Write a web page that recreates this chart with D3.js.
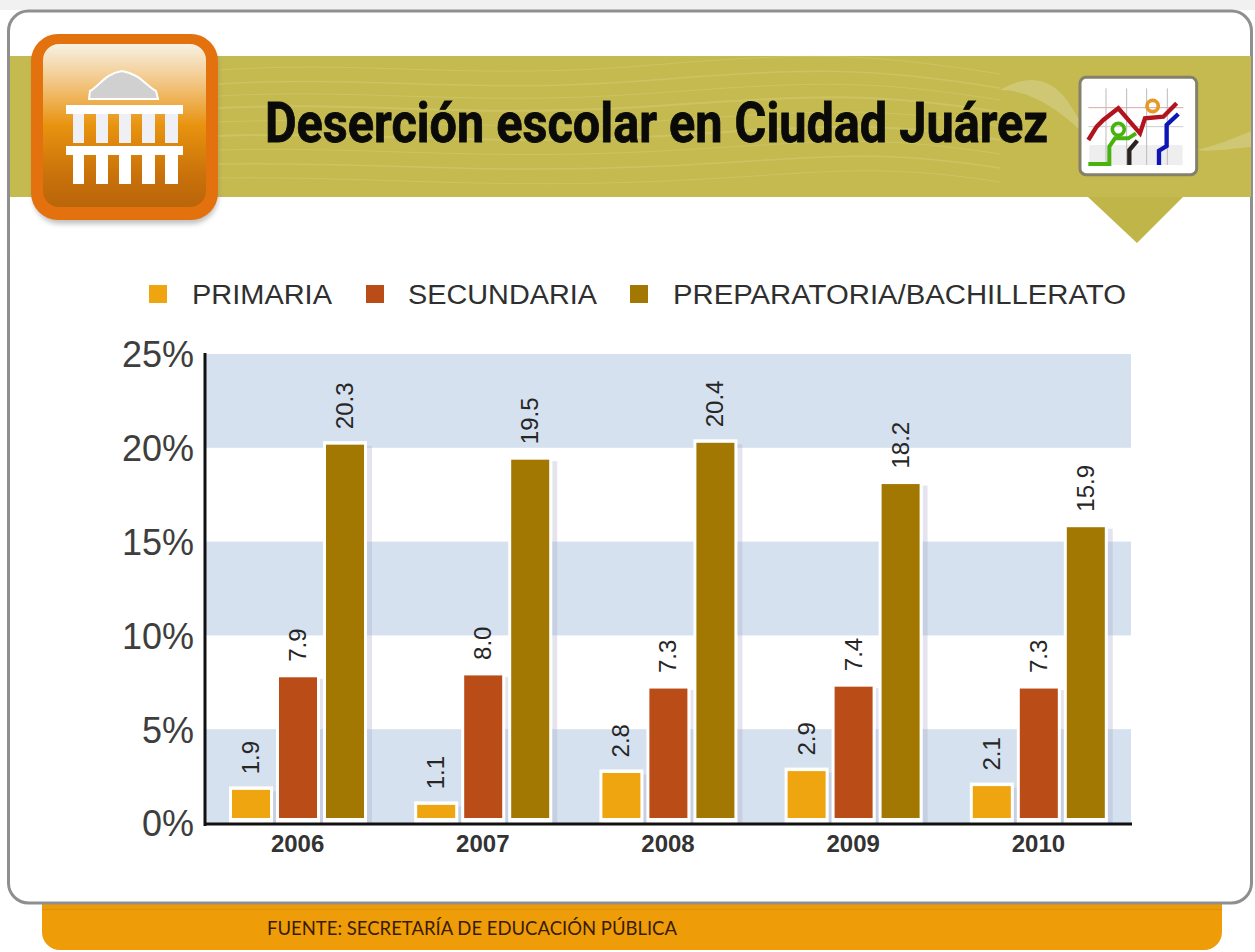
<!DOCTYPE html>
<html><head><meta charset="utf-8">
<script src="https://cdn.jsdelivr.net/npm/d3@7"></script>
<style>html,body{margin:0;padding:0;background:#fff}svg{display:block}text{font-family:"Liberation Sans",Arial,sans-serif}</style>
</head><body><div id="c"></div>
<script>
const years = ["2006","2007","2008","2009","2010"];
const seriesNames = ["PRIMARIA","SECUNDARIA","PREPARATORIA/BACHILLERATO"];
const primaria = [1.9,1.1,2.8,2.9,2.1];
const secundaria = [7.9,8.0,7.3,7.4,7.3];
const preparatoria = [20.3,19.5,20.4,18.2,15.9];
const seriesColors = ["#efa50f","#b94c17","#a27803"];
const yTicks = [0,5,10,15,20,25];
const titleText = "Deserción escolar en Ciudad Juárez";
const sourceText = "FUENTE: SECRETARÍA DE EDUCACIÓN PÚBLICA";

const W=1255,H=952;
const svg=d3.select("#c").append("svg").attr("width",W).attr("height",H);
const defs=svg.append("defs");
function grad(id,stops){const g=defs.append("linearGradient").attr("id",id).attr("x1",0).attr("y1",0).attr("x2",0).attr("y2",1);
 stops.forEach(s=>g.append("stop").attr("offset",s[0]).attr("stop-color",s[1]));}
grad("foot",[[0,"#8a8578"],[0.06,"#cf8a0c"],[0.2,"#ee9c08"],[0.88,"#ec9a08"],[1,"#c9870c"]]);
grad("ico",[[0,"#f7f1e3"],[0.22,"#f3c98a"],[0.5,"#e8930f"],[0.8,"#c9720b"],[1,"#b9650a"]]);
defs.append("filter").attr("id","soft").attr("x","-20%").attr("y","-20%").attr("width","140%").attr("height","140%")
 .append("feGaussianBlur").attr("stdDeviation",2.5);

// page frame
svg.append("rect").attr("width",W).attr("height",H).attr("fill","#fff");
svg.append("rect").attr("x",0).attr("y",0).attr("width",W).attr("height",10).attr("fill","#f1f1f1");
svg.append("rect").attr("x",42).attr("y",880).attr("width",1180).attr("height",70).attr("rx",18).attr("fill","#ee9c08");
svg.append("rect").attr("x",42).attr("y",902).attr("width",1180).attr("height",8).attr("fill","url(#foot)");
svg.append("rect").attr("x",8.5).attr("y",11).attr("width",1243).attr("height",892).attr("rx",20).attr("fill","#fff").attr("stroke","#8f8f8f").attr("stroke-width",3);

// header band
svg.append("rect").attr("x",10).attr("y",56).attr("width",1241).attr("height",141).attr("fill","#c4ba50");
svg.append("path").attr("d","M1088 197L1183 197L1137 243Z").attr("fill","#bfb548");
const waves=svg.append("g").attr("fill","none").attr("stroke","#d6ce7c").attr("opacity",0.45);
[[70,1],[84,1.5],[96,1],[108,2],[122,1],[136,2],[150,1],[164,1.5],[178,1]].forEach(([y,w],i)=>{
 waves.append("path").attr("stroke-width",w).attr("d",`M218 ${y} C 360 ${y-10+i} 470 ${y+10} 640 ${y-4+i} S 860 ${y-18} 1000 ${y+4}`);
});
svg.append("path").attr("d","M1000 90C1030 72 1055 78 1072 108C1082 124 1086 128 1085 135C1060 110 1030 90 1000 90Z").attr("fill","#d3cb80").attr("opacity",0.75);
svg.append("path").attr("d","M1197 150C1215 146 1235 138 1251 131L1251 147C1230 149 1210 152 1197 150Z").attr("fill","#d3cb80").attr("opacity",0.75);

// building icon
svg.append("rect").attr("x",33).attr("y",38).attr("width",185).attr("height",186).attr("rx",27).attr("fill","#777").attr("opacity",0.45).attr("filter","url(#soft)");
svg.append("rect").attr("x",31).attr("y",34).attr("width",187).attr("height",186).attr("rx",27).attr("fill","#e2710e");
svg.append("rect").attr("x",43).attr("y",44).attr("width",163).attr("height",163).attr("rx",16).attr("fill","url(#ico)");
const b=svg.append("g");
b.append("path").attr("d","M90 91C100 86 104 74 122 71C140 74 146 86 156 91L158 99L89 99Z").attr("fill","#cfd0cf").attr("stroke","#fff").attr("stroke-width",2);
[[66,105,117,9],[66,146,117,9]].forEach(r=>b.append("rect").attr("x",r[0]).attr("y",r[1]).attr("width",r[2]).attr("height",r[3]).attr("fill","#fff"));
[[73,11],[96,12],[119,12],[142,13],[165,13]].forEach(c=>{
 b.append("rect").attr("x",c[0]).attr("y",114).attr("width",c[1]).attr("height",29).attr("fill","#eef0f6");
 b.append("rect").attr("x",c[0]).attr("y",155).attr("width",c[1]).attr("height",29).attr("fill","#fff");
});

// chart icon
const ic=svg.append("g").attr("transform","translate(1000,40) scale(0.3333)").attr("fill","none");
ic.append("rect").attr("x",240).attr("y",112).attr("width",350).attr("height",292).attr("rx",18).attr("fill","#fff").attr("stroke","#85806a").attr("stroke-width",9);
ic.append("rect").attr("x",268).attr("y",315).attr("width",280).attr("height",60).attr("fill","#eeeeee");
[318,380,440,502].forEach(x=>ic.append("line").attr("x1",x).attr("x2",x).attr("y1",145).attr("y2",375).attr("stroke","#bbb").attr("stroke-width",3));
ic.append("line").attr("x1",265).attr("x2",550).attr("y1",203).attr("y2",203).attr("stroke","#d9a9a9").attr("stroke-width",3);
ic.append("line").attr("x1",265).attr("x2",550).attr("y1",260).attr("y2",260).attr("stroke","#ccc").attr("stroke-width",3);
ic.append("path").attr("d","M265 300L290 260L310 240L355 205L420 280L435 235L490 230L530 190").attr("stroke","#b3131c").attr("stroke-width",13);
ic.append("path").attr("d","M265 372L328 372L328 320L345 295L385 295L408 280").attr("stroke","#49b30d").attr("stroke-width",12);
ic.append("circle").attr("cx",355).attr("cy",268).attr("r",18).attr("stroke","#49b30d").attr("stroke-width",11);
ic.append("path").attr("d","M388 375L388 330L412 302").attr("stroke","#2b2522").attr("stroke-width",13);
ic.append("circle").attr("cx",458).attr("cy",198).attr("r",17).attr("stroke","#e49a25").attr("stroke-width",11);
ic.append("path").attr("d","M477 375L477 332L500 318L500 255L535 222").attr("stroke","#0e15b6").attr("stroke-width",13);

// title
svg.append("text").attr("x",265).attr("y",142).attr("textLength",783).attr("lengthAdjust","spacingAndGlyphs")
 .attr("font-size",55).attr("font-weight",700).attr("stroke","#0a0a08").attr("stroke-width",0.8).style("font-family","Roboto").attr("fill","#0a0a08").text(titleText);

// legend
const legendX=[149,366,630], legendTextX=[192,408,673], legendW=[140,189,453];
seriesNames.forEach((n,i)=>{
 svg.append("rect").attr("x",legendX[i]).attr("y",285).attr("width",18).attr("height",18).attr("fill",seriesColors[i]);
 svg.append("text").attr("x",legendTextX[i]).attr("y",304).attr("textLength",legendW[i]).attr("lengthAdjust","spacingAndGlyphs").attr("font-size",27).attr("fill","#2f2f2f").text(n);
});

// scales
const y=d3.scaleLinear().domain([0,25]).range([823,354]);
const x0=d3.scaleBand().domain(years).range([205,1131]);
const x1=d3.scaleBand().domain(seriesNames).range([27,159]).paddingInner(9/47).paddingOuter(0);
const values=[primaria,secundaria,preparatoria];

// stripes
const g=svg.append("g");
[[0,5],[10,15],[20,25]].forEach(b=>{
 g.append("rect").attr("x",205).attr("width",926).attr("y",y(b[1])).attr("height",y(b[0])-y(b[1])).attr("fill","#d5e1ef");
});

// bars
years.forEach((yr,i)=>{
 const gx=g.append("g").attr("transform",`translate(${x0(yr)},0)`);
 seriesNames.forEach((s,j)=>{
  const v=values[j][i], bx=x1(s), bw=x1.bandwidth();
  gx.append("rect").attr("x",bx+bw+3).attr("y",y(v)+4).attr("width",5).attr("height",y(0)-y(v)-4).attr("fill","#a9a6c6").attr("opacity",0.3);
  gx.append("rect").attr("x",bx-3).attr("y",y(v)-1).attr("width",bw+6).attr("height",y(0)-y(v)+1).attr("fill","#fff");
  gx.append("rect").attr("x",bx).attr("y",y(v)+2.5).attr("width",bw).attr("height",y(0)-y(v)-7.5).attr("fill",seriesColors[j]);
  gx.append("text").attr("transform",`translate(${bx+bw/2+8},${y(v)-13}) rotate(-90)`).attr("font-size",24).attr("fill","#262626").text(v.toFixed(1));
 });
});

// axes
const ya=d3.axisLeft(y).tickValues(yTicks).tickSize(0).tickPadding(11).tickFormat(d=>d+"%");
const yg=svg.append("g").attr("transform","translate(205,0)").call(ya);
yg.select(".domain").remove();
yg.selectAll("text").attr("font-size",36).attr("fill","#3e3e3e").attr("dy","0.36em").style("font-family","Liberation Sans");
const xa=d3.axisBottom(x0).tickSize(0).tickPadding(0);
const xg=svg.append("g").attr("transform","translate(0,824)").call(xa);
xg.select(".domain").remove();
xg.selectAll("text").attr("font-size",24).attr("font-weight",700).attr("fill","#333").attr("dy","1.16em").style("font-family","Liberation Sans");
svg.append("line").attr("x1",205).attr("x2",205).attr("y1",353).attr("y2",826).attr("stroke","#111").attr("stroke-width",3);
svg.append("line").attr("x1",204).attr("x2",1132).attr("y1",824).attr("y2",824).attr("stroke","#111").attr("stroke-width",3);

// source
svg.append("text").attr("x",267).attr("y",935).attr("textLength",410).attr("lengthAdjust","spacingAndGlyphs").attr("font-size",20).style("font-family","Lato").attr("fill","#3a1c04").text(sourceText);
</script></body></html>
